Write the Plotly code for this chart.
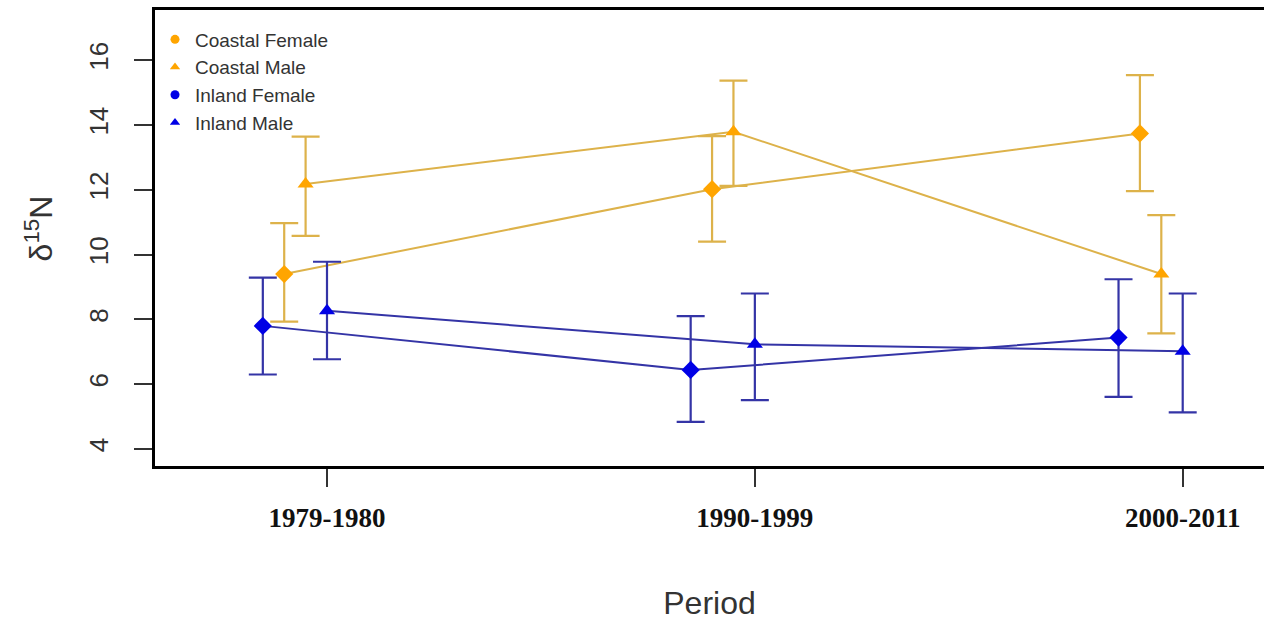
import plotly.graph_objects as go

periods = ["1979-1980", "1990-1999", "2000-2011"]
series_names = ["Coastal Female", "Coastal Male", "Inland Female", "Inland Male"]

coastal_female = [9.40, 12.02, 13.74]
coastal_female_hi = [10.97, 13.66, 15.54]
coastal_female_lo = [7.93, 10.40, 11.96]

coastal_male = [12.18, 13.79, 9.40]
coastal_male_hi = [13.64, 15.37, 11.22]
coastal_male_lo = [10.58, 12.12, 7.57]

inland_female = [7.80, 6.44, 7.44]
inland_female_hi = [9.29, 8.10, 9.24]
inland_female_lo = [6.30, 4.84, 5.61]

inland_male = [8.27, 7.23, 7.02]
inland_male_hi = [9.78, 8.80, 8.80]
inland_male_lo = [6.77, 5.51, 5.13]

y_ticks = [4, 6, 8, 10, 12, 14, 16]

COAST_MK = "#FFA500"
COAST_LN = "#DDB24A"
INL_MK = "#0000E6"
INL_LN = "#3434A6"

base = list(range(1, len(periods) + 1))
specs = [
    ("Coastal Female", coastal_female, coastal_female_hi, coastal_female_lo, -0.10, "diamond", COAST_MK, COAST_LN, "circle"),
    ("Coastal Male", coastal_male, coastal_male_hi, coastal_male_lo, -0.05, "triangle-up", COAST_MK, COAST_LN, "triangle-up"),
    ("Inland Female", inland_female, inland_female_hi, inland_female_lo, -0.15, "diamond", INL_MK, INL_LN, "circle"),
    ("Inland Male", inland_male, inland_male_hi, inland_male_lo, 0.0, "triangle-up", INL_MK, INL_LN, "triangle-up"),
]

fig = go.Figure()
for name, vals, hi, lo, off, sym, mk, ln, lsym in specs:
    xs = [b + off for b in base]
    fig.add_trace(go.Scatter(
        x=xs, y=vals, mode="lines+markers", name=name, showlegend=False,
        line=dict(color=ln, width=2),
        marker=dict(symbol=sym, size=14, color=mk),
        error_y=dict(type="data", symmetric=False,
                     array=[h - v for h, v in zip(hi, vals)],
                     arrayminus=[v - l for v, l in zip(vals, lo)],
                     color=ln, thickness=2.2, width=14),
    ))

for name, vals, hi, lo, off, sym, mk, ln, lsym in specs:
    fig.add_trace(go.Scatter(
        x=[None], y=[None], mode="markers", name=name, showlegend=True,
        marker=dict(symbol=lsym, size=9, color=mk),
    ))

fig.update_layout(
    width=1264, height=621,
    margin=dict(l=155, r=0, t=10, b=155),
    paper_bgcolor="white", plot_bgcolor="white",
    showlegend=True,
    legend=dict(x=0.0, y=0.977, xanchor="left", yanchor="top",
                bgcolor="rgba(0,0,0,0)",
                font=dict(family="Liberation Sans, Arial", size=19, color="#333333"),
                tracegroupgap=0, itemwidth=30),
    xaxis=dict(
        range=[0.598, 3.19], tickmode="array", tickvals=base,
        ticktext=["<b>" + p + "</b>" for p in periods],
        tickfont=dict(family="Liberation Serif, Times New Roman", size=27, color="#111111"),
        showgrid=False, zeroline=False,
        showline=True, linecolor="black", linewidth=3, mirror=True,
        ticks="outside", ticklen=18, tickwidth=1.5, tickcolor="#333333",
        ticklabelstandoff=8,
        title=dict(text="Period", font=dict(family="Liberation Sans, Arial", size=32, color="#333333"), standoff=60),
    ),
    yaxis=dict(
        range=[3.475, 17.55], tickmode="array", tickvals=y_ticks,
        ticktext=[str(v) for v in y_ticks], tickangle=-90,
        tickfont=dict(family="Liberation Sans, Arial", size=26, color="#333333"),
        showgrid=False, zeroline=False,
        showline=True, linecolor="black", linewidth=3, mirror=False,
        ticks="outside", ticklen=18, tickwidth=1.5, tickcolor="#333333",
        ticklabelstandoff=16,
    ),
)

fig.add_annotation(
    text="δ<sup>15</sup>N", xref="paper", yref="paper", x=-0.105, y=0.52,
    xanchor="center", yanchor="middle", showarrow=False, textangle=-90,
    font=dict(family="Liberation Sans, Arial", size=32, color="#333333"),
)

fig.write_html("out.html")
